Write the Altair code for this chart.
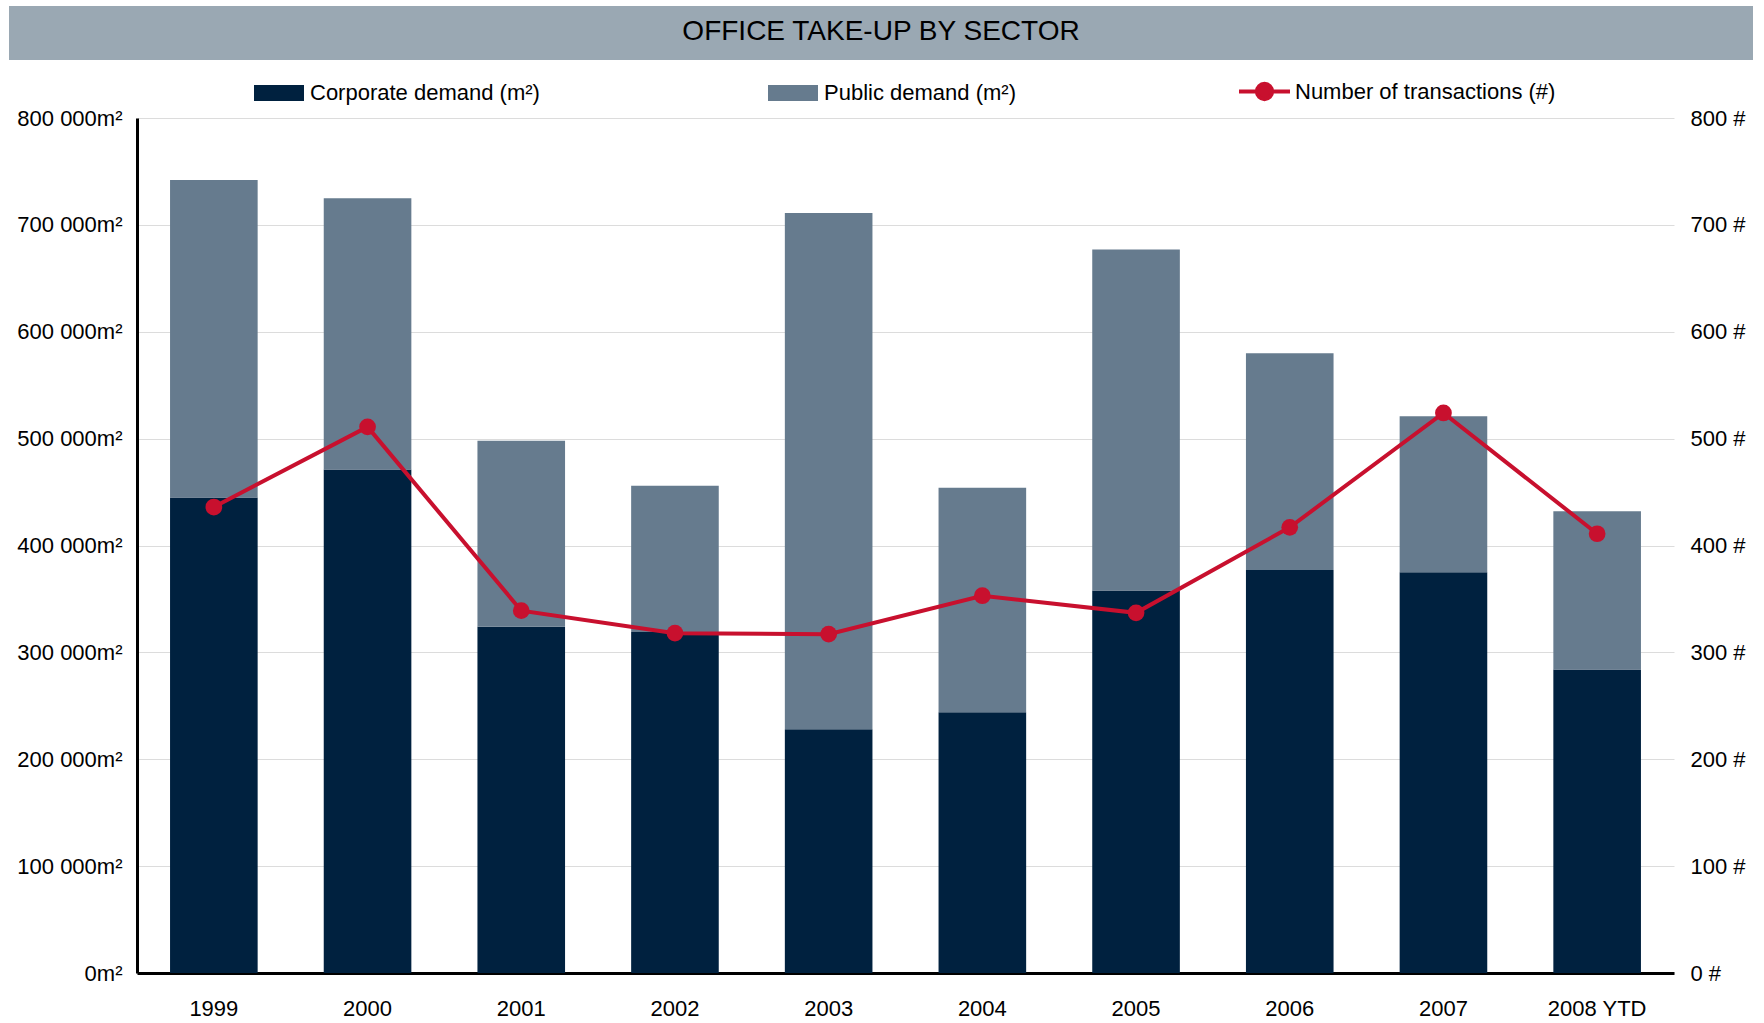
import altair as alt
import pandas as pd

TITLE = "OFFICE TAKE-UP BY SECTOR"
years = ["1999", "2000", "2001", "2002", "2003", "2004", "2005", "2006", "2007", "2008 YTD"]
corporate = [445000, 471000, 324000, 319000, 228000, 244000, 358000, 377000, 375000, 284000]
public = [297000, 254000, 174000, 137000, 483000, 210000, 319000, 203000, 146000, 148000]
transactions = [436, 511, 339, 318, 317, 353, 337, 417, 524, 411]

series_names = ["Corporate demand (m²)", "Public demand (m²)"]
line_name = "Number of transactions (#)"
left_ticks = [0, 100000, 200000, 300000, 400000, 500000, 600000, 700000, 800000]
right_ticks = [0, 100, 200, 300, 400, 500, 600, 700, 800]

NAVY = "#00213F"
SLATE = "#667B8E"
RED = "#C8102E"
BANNER = "#9AA8B3"
FONT = "Liberation Sans"

rows = []
for i, y in enumerate(years):
    rows.append({"year": y, "series": series_names[0], "value": corporate[i], "ord": 0})
    rows.append({"year": y, "series": series_names[1], "value": public[i], "ord": 1})
bar_df = pd.DataFrame(rows)
line_df = pd.DataFrame({"year": years, "transactions": transactions, "series": [line_name] * len(years)})

W, H = 1537, 855

xenc = alt.X(
    "year:N", sort=years,
    scale=alt.Scale(paddingInner=0.43, paddingOuter=0.215),
    axis=alt.Axis(title=None, labelAngle=0, ticks=False, domainColor="#000000", domainWidth=3,
                  labelFontSize=22, labelPadding=25, labelFont=FONT, labelColor="#000000"),
)

banner = alt.Chart(alt.Data(values=[{"k": 1}])).mark_rect(color=BANNER).encode(
    x=alt.value(-128), x2=alt.value(1616), y=alt.value(-112), y2=alt.value(-58)
)
title_text = alt.Chart(alt.Data(values=[{"k": 1}])).mark_text(
    text=TITLE, font=FONT, fontSize=28, color="#000000", align="center", baseline="middle"
).encode(x=alt.value(744), y=alt.value(-86))

bars = alt.Chart(bar_df).mark_bar().encode(
    x=xenc,
    y=alt.Y("value:Q", stack="zero",
            scale=alt.Scale(domain=[0, 800000], nice=False),
            axis=alt.Axis(title=None, values=left_ticks, ticks=False, domainColor="#000000", domainWidth=3,
                          gridColor="#DCDCDC", gridWidth=1, labelFontSize=22, labelPadding=15,
                          labelFont=FONT, labelColor="#000000",
                          labelExpr="replace(format(datum.value, ','), regexp(',', 'g'), ' ') + 'm²'")),
    color=alt.Color("series:N", scale=alt.Scale(domain=series_names, range=[NAVY, SLATE]),
                    legend=alt.Legend(orient="none", legendX=117, legendY=-50, direction="horizontal",
                                      title=None, symbolType="M-1,-0.32H1V0.32H-1Z", symbolSize=2500,
                                      symbolStrokeWidth=0, labelFontSize=22, labelFont=FONT,
                                      labelColor="#000000", labelOffset=6, columnPadding=228,
                                      labelLimit=0, padding=0)),
    order=alt.Order("ord:Q"),
)

line = alt.Chart(line_df).mark_line(
    strokeWidth=4, point=alt.OverlayMarkDef(filled=True, size=280)
).encode(
    x=alt.X("year:N", sort=years),
    y=alt.Y("transactions:Q", scale=alt.Scale(domain=[0, 800], nice=False),
            axis=alt.Axis(title=None, orient="right", values=right_ticks, ticks=False, domain=False,
                          grid=False, labelFontSize=22, labelPadding=16, labelFont=FONT,
                          labelColor="#000000", labelExpr="datum.value + ' #'")),
    color=alt.Color("series:N", scale=alt.Scale(domain=[line_name], range=[RED]),
                    legend=alt.Legend(orient="none", legendX=1100, legendY=-54, title=None,
                                      symbolType="M-1,0H1M0.3,0A0.3,0.3,0,1,1,-0.3,0A0.3,0.3,0,1,1,0.3,0Z",
                                      symbolSize=2600, symbolStrokeWidth=4, symbolFillColor=RED,
                                      symbolStrokeColor=RED, labelFontSize=22, labelFont=FONT,
                                      labelColor="#000000", labelOffset=3, labelLimit=0, padding=0)),
)

chart = alt.layer(banner, title_text, bars, line).resolve_scale(
    y="independent", color="independent"
).properties(
    width=W, height=H,
    autosize=alt.AutoSizeParams(type="none"),
    padding={"left": 137, "top": 118, "right": 90, "bottom": 50},
    background="white",
).configure_view(stroke=None)

chart.save("out.html", embed_options={"renderer": "svg", "actions": False})
